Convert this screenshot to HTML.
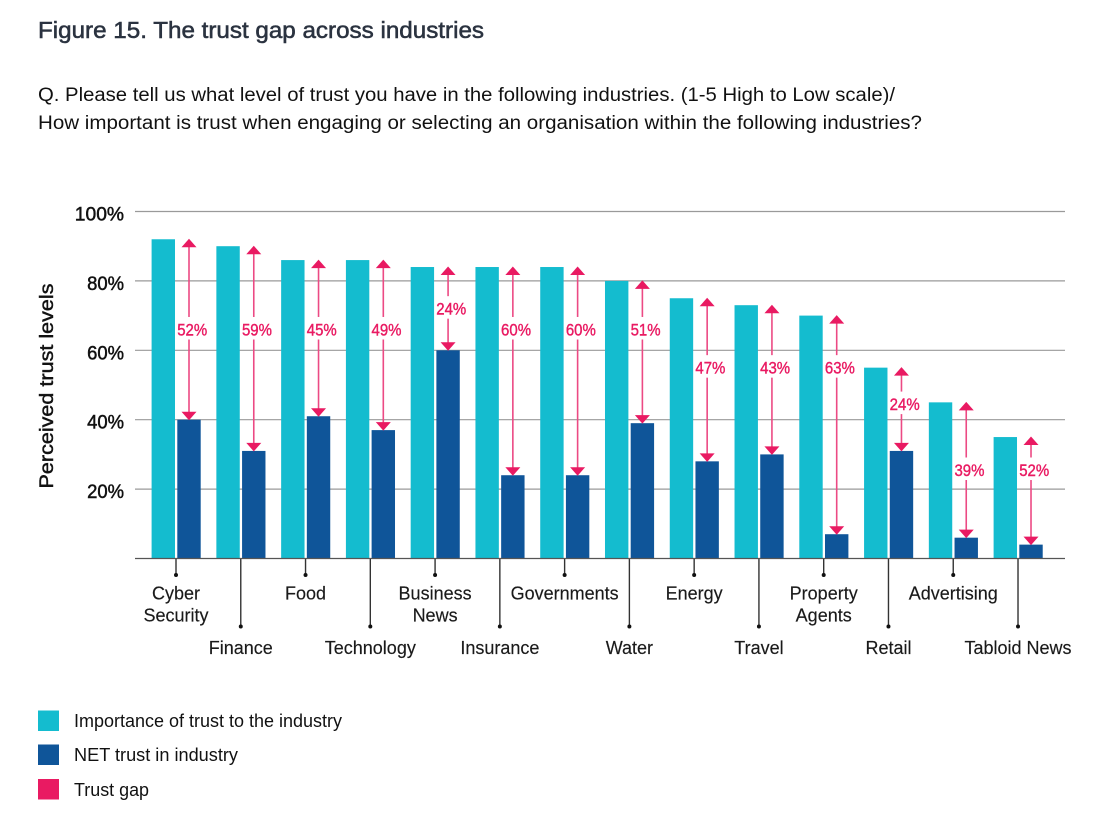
<!DOCTYPE html>
<html lang="en">
<head>
<meta charset="utf-8">
<title>Figure 15. The trust gap across industries</title>
<style>
  html, body { margin: 0; padding: 0; background: #ffffff; }
  body { width: 1116px; height: 830px; overflow: hidden; }
  svg { display: block; font-family: "Liberation Sans", sans-serif; }
  .title { font-size: 23px; fill: #2b3340; stroke: #2b3340; stroke-width: 0.55px; }
  .question { font-size: 19px; fill: #111; }
  .ytick { font-size: 19.5px; fill: #111; stroke: #111; stroke-width: 0.5px; text-anchor: end; }
  .ytitle { font-size: 19.5px; fill: #111; stroke: #111; stroke-width: 0.45px; text-anchor: middle; }
  .cat { font-size: 18px; fill: #1a1a1a; stroke: #1a1a1a; stroke-width: 0.15px; text-anchor: middle; }
  .gap { font-size: 16.5px; fill: #e91a62; stroke: #e91a62; stroke-width: 0.4px; text-anchor: middle; }
  .legend { font-size: 18px; fill: #111; }
</style>
</head>
<body>
<svg id="chart" width="1116" height="830" viewBox="0 0 1116 830" xmlns="http://www.w3.org/2000/svg">
  <text class="title" x="38" y="38" textLength="446" lengthAdjust="spacingAndGlyphs">Figure 15. The trust gap across industries</text>
  <text class="question" x="38" y="101" textLength="857" lengthAdjust="spacingAndGlyphs">Q. Please tell us what level of trust you have in the following industries. (1-5 High to Low scale)/</text>
  <text class="question" x="38" y="129" textLength="884" lengthAdjust="spacingAndGlyphs">How important is trust when engaging or selecting an organisation within the following industries?</text>
  <text class="ytitle" transform="translate(53 386) rotate(-90)" textLength="205" lengthAdjust="spacingAndGlyphs">Perceived trust levels</text>

  <g id="grid"></g>
  <g id="yticks"></g>
  <g id="bars"></g>
  <g id="axis"></g>
  <g id="gaps"></g>

  <g>
    <rect x="38" y="710.5" width="21" height="20.5" fill="#14bccf"></rect>
    <text class="legend" x="74" y="727" textLength="268" lengthAdjust="spacingAndGlyphs">Importance of trust to the industry</text>
    <rect x="38" y="744.5" width="21" height="20.5" fill="#0f5599"></rect>
    <text class="legend" x="74" y="761" textLength="164" lengthAdjust="spacingAndGlyphs">NET trust in industry</text>
    <rect x="38" y="779" width="21" height="20.5" fill="#e91a62"></rect>
    <text class="legend" x="74" y="796" textLength="75" lengthAdjust="spacingAndGlyphs">Trust gap</text>
  </g>
</svg>
<script>
const categories = ["Cyber|Security", "Finance", "Food", "Technology", "Business|News", "Insurance", "Governments", "Water", "Energy", "Travel", "Property|Agents", "Retail", "Advertising", "Tabloid News"];
const importanceValues = [92, 90, 86, 86, 84, 84, 84, 80, 75, 73, 70, 55, 45, 35];
const netTrustValues = [40, 31, 41, 37, 60, 24, 24, 39, 28, 30, 7, 31, 6, 4];
const gapLabels = ["52%", "59%", "45%", "49%", "24%", "60%", "60%", "51%", "47%", "43%", "63%", "24%", "39%", "52%"];
const gapLabelLevels = [66, 66, 66, 66, 72, 66, 66, 66, 55, 55, 55, 44.5, 25.5, 25.5];
const yTickValues = [20, 40, 60, 80, 100];
const yTickLabels = ["20%", "40%", "60%", "80%", "100%"];

const NS = "http://www.w3.org/2000/svg";
function yScale(v) { return 558.5 - v * 3.47; }
function xScale(i) { return 176 + i * 64.77; }
function make(tag, parent, props) {
  const el = document.createElementNS(NS, tag);
  for (const k in props) el.setAttribute(k, props[k]);
  parent.appendChild(el);
  return el;
}
const gridG = document.getElementById("grid");
const ytickG = document.getElementById("yticks");
const barsG = document.getElementById("bars");
const axisG = document.getElementById("axis");
const gapsG = document.getElementById("gaps");

yTickValues.forEach(function (v, i) {
  const line = make("line", gridG, { x1: 135, x2: 1065, y1: yScale(v), y2: yScale(v), stroke: "#9a9a9a", "stroke-width": 1.2 });
  
  
  const t = make("text", ytickG, { class: "ytick", x: 124, y: yScale(v) + 9, textLength: yTickLabels[i].length * 12.3, lengthAdjust: "spacingAndGlyphs" });
  t.textContent = yTickLabels[i];
  
  
});

categories.forEach(function (cat, i) {
  const cx = xScale(i);
  const a = make("rect", barsG, { x: cx - 24.4, y: yScale(importanceValues[i]), width: 23.4, height: yScale(0) - yScale(importanceValues[i]), fill: "#14bccf" });
  
  
  const b = make("rect", barsG, { x: cx + 1.3, y: yScale(netTrustValues[i]), width: 23.4, height: yScale(0) - yScale(netTrustValues[i]), fill: "#0f5599" });
  
  

  const long = i % 2 === 1;
  const tickEnd = long ? 626.5 : 575;
  const tick = make("line", axisG, { x1: cx, x2: cx, y1: yScale(0), y2: tickEnd, stroke: "#333", "stroke-width": 1.4 });
  
  
  const dot = make("circle", axisG, { cx: cx, cy: tickEnd, r: 2, fill: "#111" });
  
  
  cat.split("|").forEach(function (part, n) {
    const label = make("text", axisG, { class: "cat", x: cx, y: (long ? 654 : 599.5) + n * 22 });
    label.textContent = part;
    
    
  });

  const ax = cx + 13;
  const top = yScale(importanceValues[i]);
  const bottom = yScale(netTrustValues[i]);
  const ly = yScale(gapLabelLevels[i]);
  const upper = make("line", gapsG, { x1: ax, x2: ax, y1: top + 7, y2: ly - 12.5, stroke: "#ec4a84", "stroke-width": 1.6 });
  
  
  const lower = make("line", gapsG, { x1: ax, x2: ax, y1: ly + 10, y2: bottom - 7, stroke: "#ec4a84", "stroke-width": 1.6 });
  
  
  const headUp = make("polygon", gapsG, { points: [ax, top - 0.5, ax + 7.5, top + 8, ax - 7.5, top + 8].join(" "), fill: "#e91a62" });
  
  
  const headDown = make("polygon", gapsG, { points: [ax, bottom + 0.5, ax + 7.5, bottom - 8, ax - 7.5, bottom - 8].join(" "), fill: "#e91a62" });
  
  
  const gt = make("text", gapsG, { class: "gap", x: ax + 3.2, y: ly + 5.8, textLength: 30, lengthAdjust: "spacingAndGlyphs" });
  gt.textContent = gapLabels[i];
  
  
});

const base = make("line", axisG, { x1: 135, x2: 1065, y1: yScale(0), y2: yScale(0), stroke: "#555", "stroke-width": 1.3 });


</script>
</body>
</html>
